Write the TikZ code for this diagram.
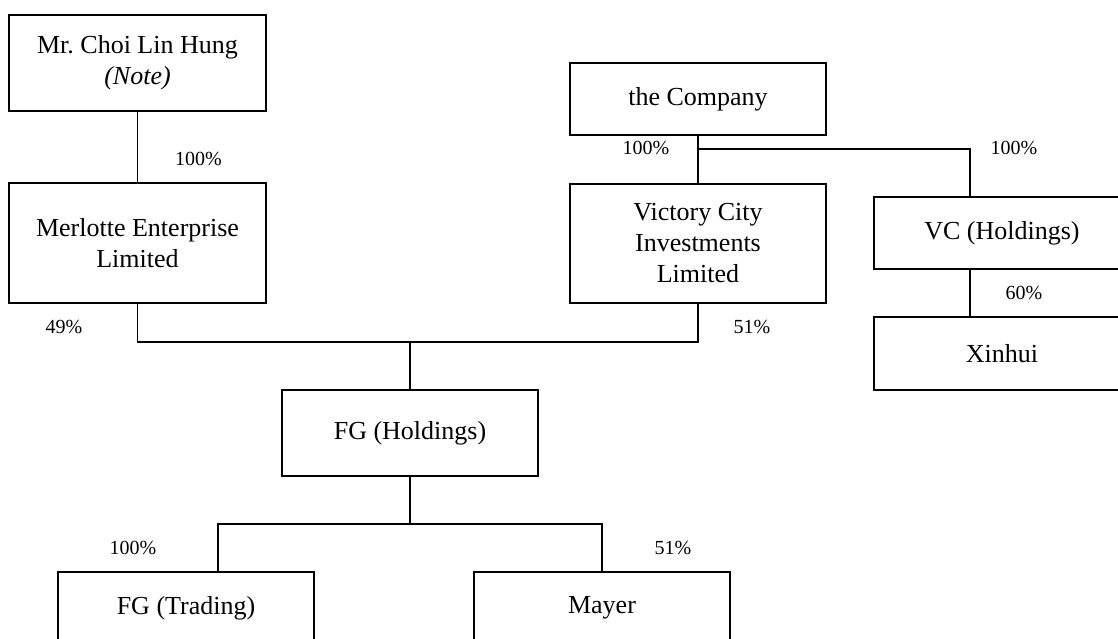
\documentclass[tikz,border=0pt]{standalone}
\usepackage{fontspec}
\setmainfont{Liberation Serif}
\frenchspacing
\begin{document}
\begin{tikzpicture}[x=1pt,y=-1pt,
  box/.style={draw, line width=1.5pt, inner sep=0pt, align=center,
    font=\fontsize{26}{31}\selectfont},
  pct/.style={inner sep=0pt, font=\fontsize{20}{24}\selectfont},
  link/.style={line width=1.5pt}]
\useasboundingbox (0,0) rectangle (1118,639);
\begin{scope}
\clip (0,0) rectangle (1118,639);
% boxes
\node[box, minimum width=257pt, minimum height=96pt] (choi) at (137.5,63) {Mr.\ Choi Lin Hung\\\textit{(Note)}};
\node[box, minimum width=257pt, minimum height=120pt] (merl) at (137.5,243) {Merlotte Enterprise\\Limited};
\node[box, minimum width=256pt, minimum height=72pt] (comp) at (698,99) {the Company};
\node[box, minimum width=256pt, minimum height=119pt] (vic) at (698,243.5) {Victory City\\Investments\\Limited};
\node[box, minimum width=256pt, minimum height=72pt] (vch) at (1002,233) {VC (Holdings)};
\node[box, minimum width=256pt, minimum height=73pt] (xin) at (1002,353.5) {Xinhui};
\node[box, minimum width=256pt, minimum height=86pt] (fgh) at (410,433) {\raisebox{6pt}{FG (Holdings)}};
\node[box, minimum width=256pt, minimum height=72pt] (fgt) at (186,608) {FG (Trading)};
\node[box, minimum width=256pt, minimum height=72pt] (may) at (602,608) {Mayer};
% junction coordinates
\coordinate (jc) at (698,149);
\coordinate (vchin) at (970,197);
\coordinate (vchout) at (970,269);
\coordinate (xinin) at (970,317);
\coordinate (jm) at (137.5,342);
\coordinate (jv) at (698,342);
\coordinate (jf) at (410,342);
\coordinate (jb) at (410,524);
\coordinate (fgtin) at (218,572);
% connectors
\draw[link] (choi.south) -- (merl.north);
\draw[link] (comp.south) -- (vic.north);
\draw[link] (jc) -| (vchin);
\draw[link] (vchout) -- (xinin);
\draw[link] (merl.south) -- (jm) -- (jv) -- (vic.south);
\draw[link] (jf) -- (fgh.north);
\draw[link] (fgh.south) -- (jb);
\draw[link] (jb) -| (fgtin);
\draw[link] (jb) -| (may.north);
% labels
\node[pct] (l1) at (198.5,159) {100\%};
\node[pct] (l2) at (646,148) {100\%};
\node[pct] (l3) at (1014,148) {100\%};
\node[pct] (l4) at (64,327) {49\%};
\node[pct] (l5) at (752,327) {51\%};
\node[pct] (l6) at (1024,293) {60\%};
\node[pct] (l7) at (133,548) {100\%};
\node[pct] (l8) at (673,548) {51\%};
\end{scope}
\end{tikzpicture}
\end{document}
